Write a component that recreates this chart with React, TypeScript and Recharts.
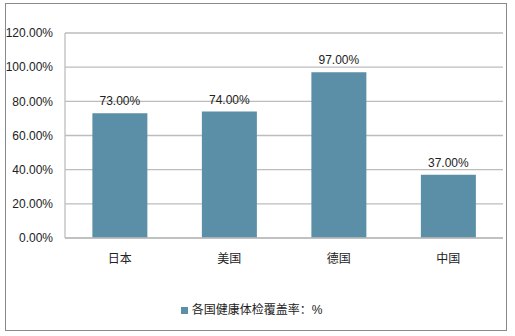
import { BarChart, Bar, XAxis, YAxis, CartesianGrid, Legend, LabelList } from 'recharts';

const countries = ['日本', '美国', '德国', '中国'];
const coverage = [73, 74, 97, 37];
const yTicks = [0, 20, 40, 60, 80, 100, 120];
const seriesName = '各国健康体检覆盖率：%';

const data = countries.map((name, i) => ({ name, value: coverage[i] }));

const barColor = '#5B8FA7';
const gridColor = '#BDBDBD';
const font = '"Liberation Sans", Arial, "Noto Sans CJK SC", sans-serif';

// legend sits low in the frame, so pad it inside a fixed-height box
const LegendContent = () => (
  <div
    style={{
      height: 68,
      boxSizing: 'border-box',
      paddingTop: 35,
      display: 'flex',
      alignItems: 'flex-start',
      justifyContent: 'center',
      fontFamily: font,
      fontSize: 12,
      lineHeight: '14px',
      color: '#222',
    }}
  >
    <span style={{ width: 7, height: 7, background: barColor, display: 'inline-block', marginRight: 4, marginTop: 4 }} />
    <span>{seriesName}</span>
  </div>
);

export default function App() {
  return (
    <div style={{ position: 'absolute', left: 0, top: 0, width: 515, height: 336, background: '#fff' }}>
      <div
        style={{
          position: 'absolute',
          left: 5,
          top: 3,
          width: 500,
          height: 326,
          border: '1.5px solid #8a8a8a',
        }}
      />
      <BarChart
        width={515}
        height={336}
        data={data}
        margin={{ top: 33, right: 12, left: 0, bottom: 0 }}
        barCategoryGap="25%"
      >
        <CartesianGrid vertical={false} stroke={gridColor} strokeWidth={1.3} />
        <XAxis
          dataKey="name"
          height={30}
          axisLine={{ stroke: gridColor, strokeWidth: 1.3 }}
          tickLine={false}
          tick={{ fill: '#222', fontSize: 12, fontFamily: font }}
          tickMargin={10}
        />
        <YAxis
          width={65}
          domain={[0, 120]}
          ticks={yTicks}
          interval={0}
          axisLine={{ stroke: gridColor, strokeWidth: 1.3 }}
          tickLine={false}
          tickSize={0}
          tickMargin={12}
          tick={{ fill: '#222', fontSize: 12, fontFamily: font }}
          tickFormatter={(v: number) => `${v.toFixed(2)}%`}
        />
        <Legend verticalAlign="bottom" height={68} content={<LegendContent />} />
        <Bar dataKey="value" name={seriesName} fill={barColor} isAnimationActive={false}>
          <LabelList
            dataKey="value"
            position="top"
            offset={8}
            formatter={(v: number) => `${v.toFixed(2)}%`}
            style={{ fill: '#222', fontSize: 12, fontFamily: font }}
          />
        </Bar>
      </BarChart>
    </div>
  );
}
